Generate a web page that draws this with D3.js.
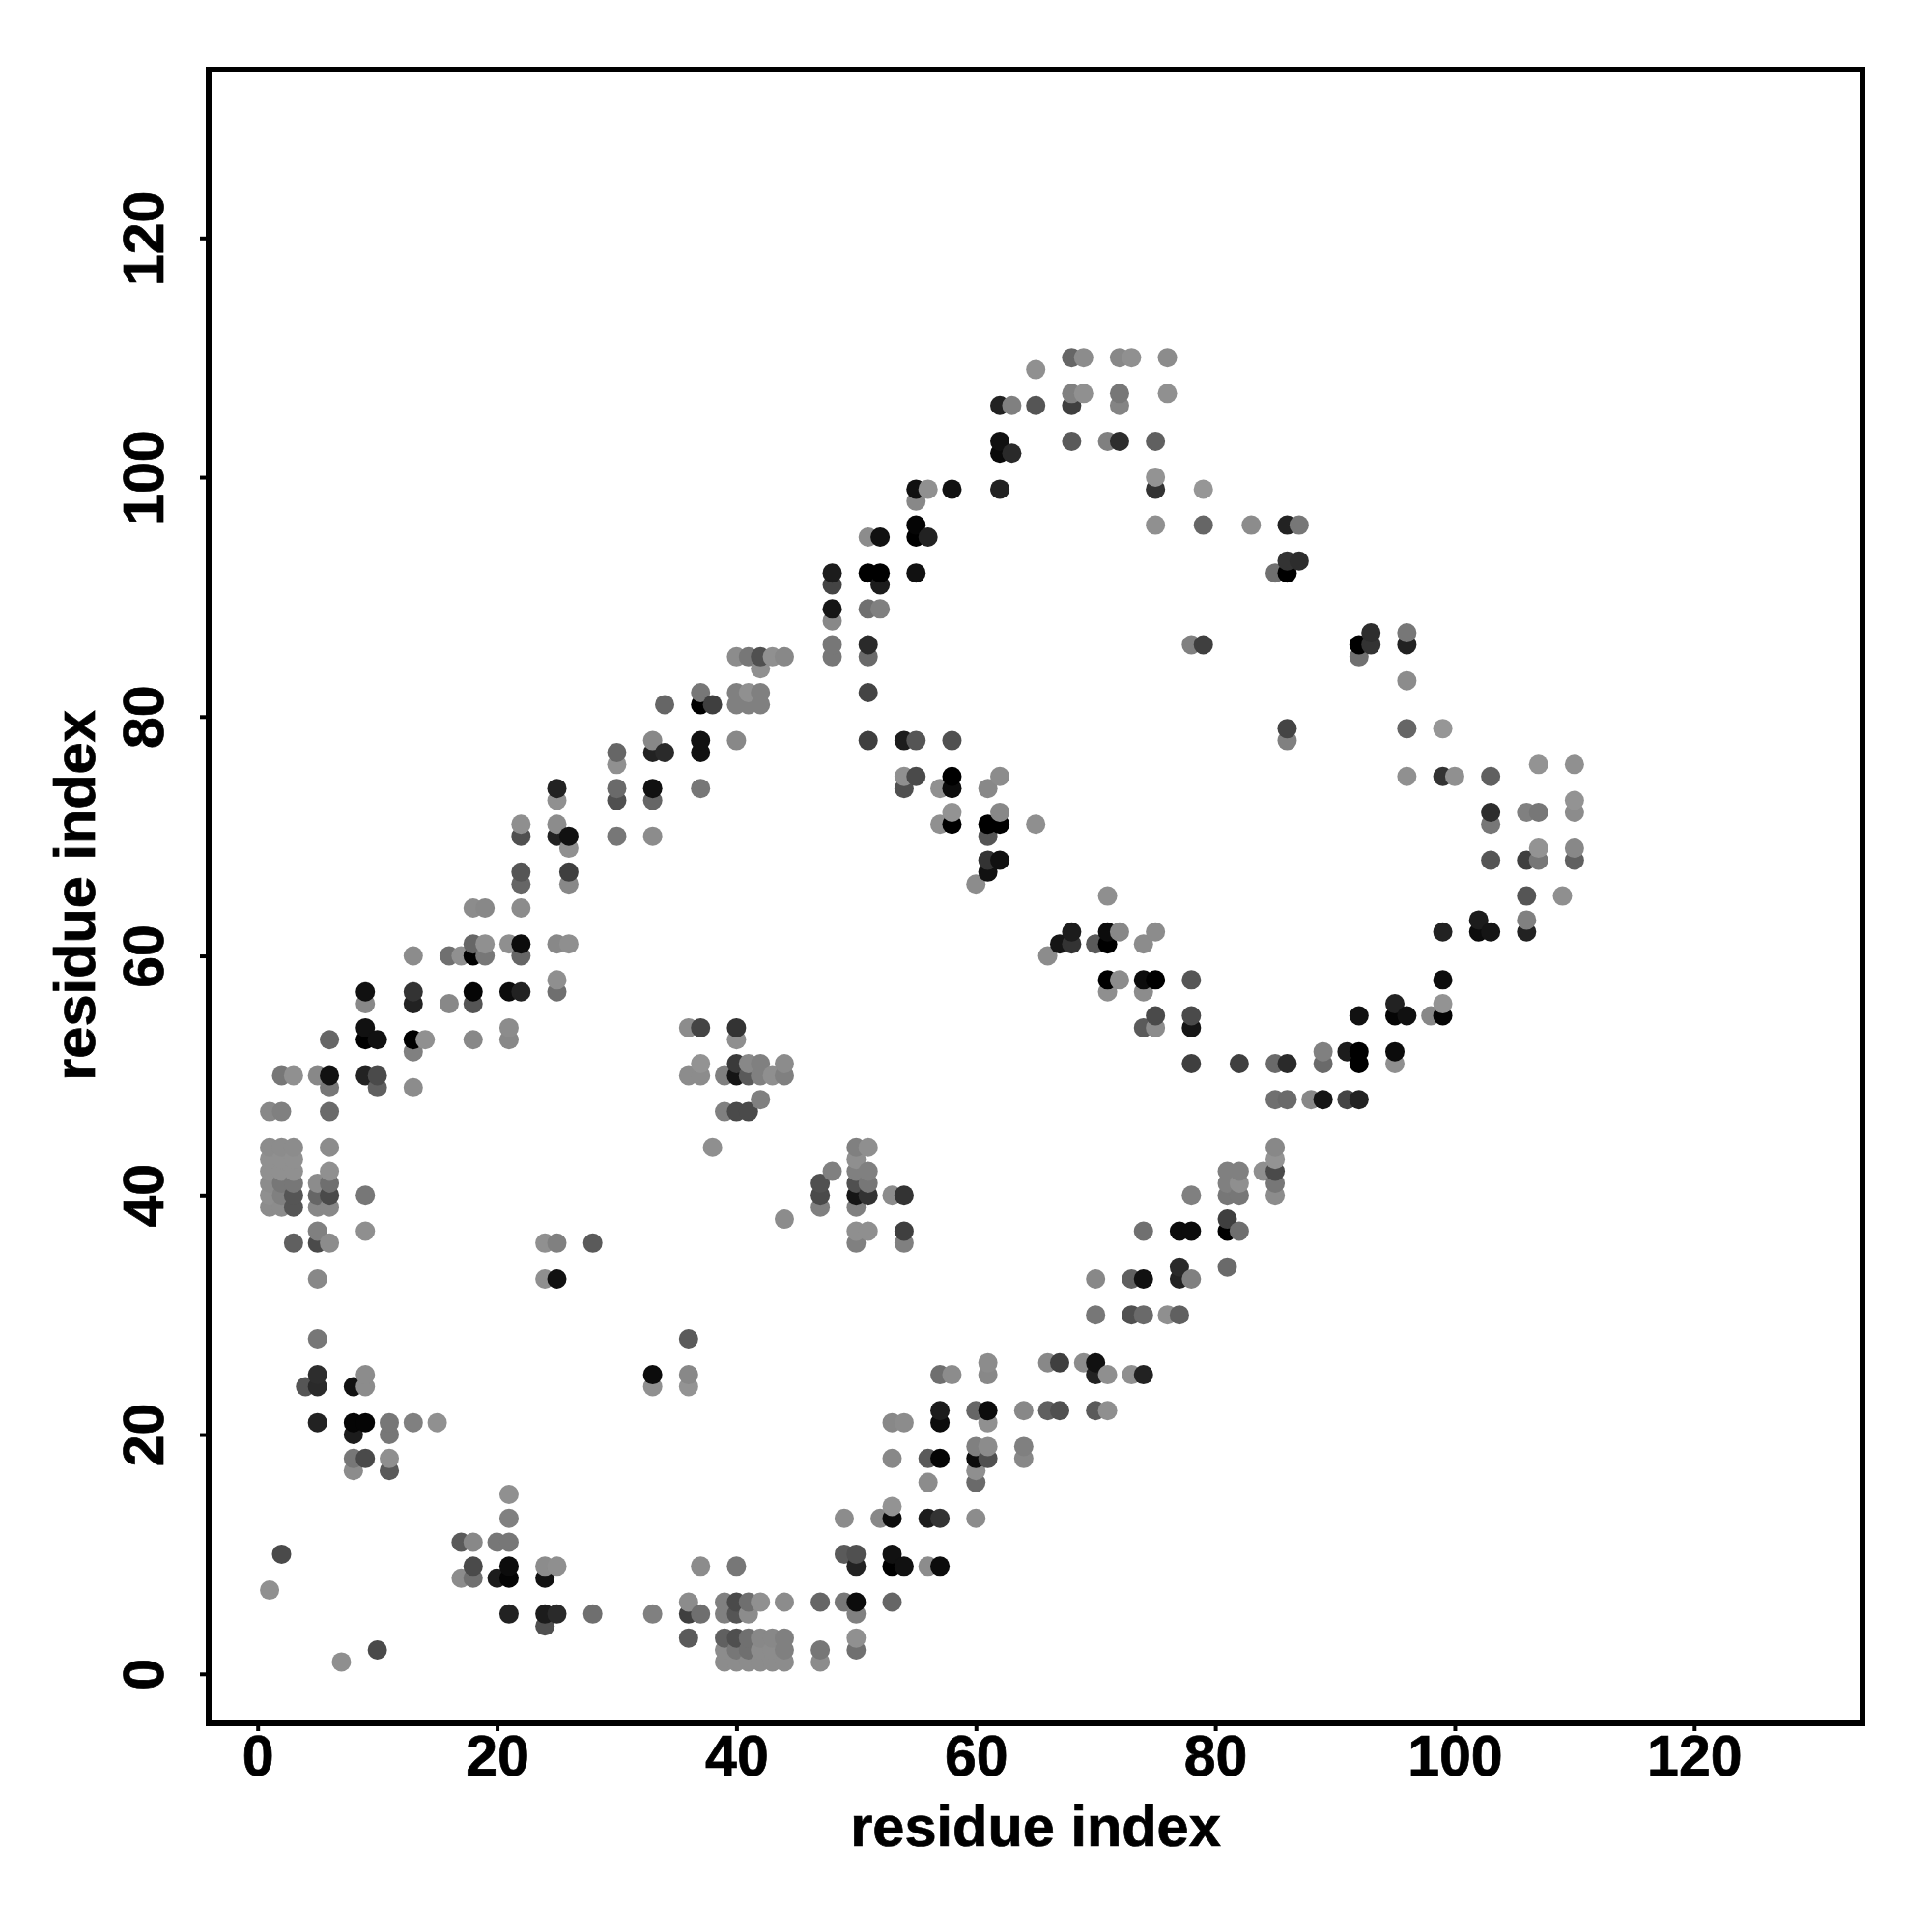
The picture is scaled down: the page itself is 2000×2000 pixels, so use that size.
<!DOCTYPE html>
<html><head><meta charset="utf-8">
<script src="https://cdn.jsdelivr.net/npm/d3@7"></script>
<style>html,body{margin:0;padding:0;background:#fff}svg{display:block}</style>
</head><body><svg id="chart" width="2000" height="2000"></svg>
<script>
// Each row: the residue index on the y axis
const rowResidue = [110,109,107,106,103,102,100,99,98,96,95,93,92,91,89,88,87,86,85,84,83,82,81,79,78,77,76,75,74,73,72,71,70,69,68,67,66,65,64,63,62,61,60,58,57,56,55,54,53,52,51,50,49,48,47,44,43,42,41,40,39,38,37,36,34,33,30,28,26,25,24,22,21,20,19,18,17,16,15,14,13,11,10,9,8,7,6,5,4,3,2,1];
// Partner residues on the x axis, per row
const rowPartners = [
[68,69,72,73,76],[65],[68,69,72,76],[62,63,65,68,72],[62,68,71,72,75],[62,63],[75],[55,56,58,62,75,79],[55],
[55,75,79,83,86,87],[51,52,55,56],[86,87],[48,51,52,55,85,86],[48,52],[48,51,52],[48],[93,96],
[48,51,78,79,92,93,96],[40,41,42,43,44,48,51,92],[42],[96],[37,40,41,42,51],[34,37,38,40,41,42],[86,96,99],
[33,37,40,51,54,55,58,86],[30,33,34,37],[30,107,110],[54,55,58,62,96,99,100,103],[25,30,33,37,54,57,58,61],
[25,30,33,110],[58,62,103,106,107,110],[22,25,57,58,61,62,65,103],[22,25,26,30,33,61],[26,107,110],
[61,62,103,106,107,110],[22,26,61],[22,26,60],[71,106,109],[18,19,22],[102,106],[68,71,72,75,99,102,103,106],
[18,19,21,22,25,26,67,68,70,71,74],[13,16,17,18,19,22,66],[25,71,72,74,75,78,99],[9,13,18,21,22,25,71,74],
[9,13,16,18,95,99],[75,78,92,95,96,98,99],[9,21,36,37,40,74,75,78],[6,9,10,13,14,18,21,40],[13,89,91,92,95],
[37,40,41,42,44,78,82,85,86,89,92,95],[2,3,5,6,9,10,36,37,39,40,41,42,43,44],[6,10,13],[42,85,86,88,89,91,92],
[1,2,6,39,40,41],[1,2,3,6,38,50,51,85],[1,2,3,50,85],[1,2,3,6,48,50,51,81,82,84,85],[1,2,3,5,6,47,50,51,81,82,85],
[1,2,3,5,6,9,47,50,51,53,54,78,81,82,85],[1,2,3,5,6,47,50],[44,81],[5,9,50,51,54,74,77,78,81,82],
[3,5,6,24,25,28,50,54],[77,81],[5,24,25,70,73,74,77,78],[70,73,74,76,77],[5,36],[61,66,67,69,70],
[5,9,33,36,57,58,61,70,71,73,74],[4,5,8,9,33,36],[57,60,61,64,66,67,70,71],[5,8,9,11,13,15,53,54,57,61],[8,11],
[60,61,64],[8,9,11,53,56,57,60,61,64],[8,11,60],[56,60],[21],[53],[21,49,52,53,56,57,60],[17,18,20,21],[2,49,50,53],
[18,21,24,25,37,40,50,53,54,56,57],[17,18,20,21,24],[1],[36,39,40,41,42,44,47,49,50,53],
[21,24,25,28,33,36,37,39,40,41,50],[24],[36,39,40,41,42,43,44,50],[10,39,40,41,42,43,44,47,50],[7,39,40,41,42,43,44,47]
];
// Shade level per partner, 0 = black, 153 = lightest
const rowLevels = [
[102,140,136,144,140],[144],[128,144,119,144],[34,128,85,63,132],[17,90,128,45,96],[10,42],[147],[17,144,17,34,51,150],[136],
[5,144,102,140,34,119],[140,17,0,34],[51,45],[28,0,0,17,112,0],[68,28],[21,112,128],[136],[45,119],
[119,42,128,63,0,51,34],[140,119,80,144,136,119,106,112],[144],[140],[119,128,144,128,68],[102,0,63,128,128,128],[68,102,150],
[136,17,136,63,28,85,80,128],[102,34,42,17],[144,147,144],[144,74,0,140,144,51,144,96],[34,106,17,119,80,144,12,136],
[144,80,102,147],[147,136,45,128,119,140],[143,140,144,0,0,0,143,119],[80,34,17,119,140,85],[144,147,136],
[51,17,85,63,119,96],[85,63,17],[102,136,140],[143,85,143],[140,136,140],[28,128],[28,12,136,140,34,12,21,34],
[102,144,143,12,136,143,21,51,90,0,140],[140,112,144,0,119,102,140],[143,0,140,12,0,85,12],[17,51,5,12,34,111,143,140],
[136,34,136,85,34,147],[74,74,17,5,17,136,5],[17,140,140,68,51,90,140,21],[102,0,17,0,144,136,136,143],[128,128,28,0,12],
[147,58,136,128,140,63,63,106,42,106,0,143],[119,144,136,17,34,74,140,140,128,21,90,128,143,128],[119,96,140],[128,112,106,136,21,68,34],
[136,128,106,128,74,74],[140,140,140,140,143,128,143,136],[144,144,144,143,147],[144,144,144,144,128,128,128,128,128,143,74],[140,119,119,140,111,80,80,119,128,143,119],
[143,128,85,102,74,119,74,21,51,140,51,128,119,119,140],[140,140,85,136,136,128,128],[140,63],[128,143,143,143,63,112,12,12,0,111],
[96,74,140,144,128,90,128,128],[42,106],[136,143,17,136,96,17,34,128],[119,80,106,143,96],[119,90],[140,136,63,140,17],
[45,140,12,136,111,140,136,34,143,144,34],[85,42,17,140,144,147],[28,102,12,136,96,80,90,143],[34,5,5,119,128,144,136,140,12,144],[28,119],
[128,140,128],[119,74,143,136,90,5,12,80,136],[140,90,143],[140,106],[144],[147],[128,140,136,12,28,51,140],[90,136,119,119],[74,90,80,17],
[74,12,140,143,140,119,34,0,17,140,12],[140,112,28,5,17],[144],[140,128,74,111,144,140,102,119,12,102],
[34,28,42,111,128,63,111,128,85,140,128],[80],[90,96,79,112,136,136,128,144],[74,140,119,112,140,140,128,119,112],[143,140,140,140,140,140,140,140]
];
const xTicks = [0,20,40,60,80,100,120];
const yTicks = [0,20,40,60,80,100,120];
const axisTitle = "residue index";

const svg = d3.select("#chart");
const x = d3.scaleLinear().domain([0,120]).range([266.7,1753.8]);
const y = d3.scaleLinear().domain([0,120]).range([1732.8,246.3]);
const shade = d3.scaleLinear().domain([0,153]).range(["#000000","#999999"]);

const points = rowResidue.flatMap((r,i) => rowPartners[i].map((p,j) => ({p, r, level: rowLevels[i][j]})))
  .sort((a,b) => d3.ascending(a.p,b.p) || d3.ascending(a.r,b.r));

svg.append("g").selectAll("circle").data(points).join("circle")
  .attr("cx", d => x(d.p)).attr("cy", d => y(d.r)).attr("r", 10)
  .attr("fill", d => shade(d.level));

svg.append("rect").attr("x",216).attr("y",72).attr("width",1712).attr("height",1712)
  .attr("fill","none").attr("stroke","#000").attr("stroke-width",6);

const font = "'Liberation Sans', Arial, sans-serif";
const styleText = s => s.attr("fill","#000").attr("stroke","#000").attr("stroke-width",0.7)
  .style("font-family",font).style("font-weight","bold");
const gx = svg.append("g").attr("transform","translate(0,1784)")
  .call(d3.axisBottom(x).tickValues(xTicks).tickSize(8).tickFormat(d3.format("d")));
const gy = svg.append("g").attr("transform","translate(216,0)")
  .call(d3.axisLeft(y).tickValues(yTicks).tickSize(9).tickFormat(d3.format("d")));
[gx,gy].forEach(g => {
  g.select(".domain").remove();
  g.selectAll("line").attr("stroke","#000").attr("stroke-width",4);
  g.selectAll("text").call(styleText).style("font-size","59px");
});
gx.selectAll("text").attr("x",0).attr("y",54).attr("dy",null).attr("text-anchor","middle");
gy.selectAll("text").attr("x",null).attr("y",null).attr("dy",null).attr("text-anchor","middle")
  .attr("transform","translate(-47,0) rotate(-90)");

svg.append("text").attr("x",1072).attr("y",1911).attr("text-anchor","middle")
  .call(styleText).style("font-size","59.5px").text(axisTitle);
svg.append("text").attr("transform","translate(98,927) rotate(-90)").attr("text-anchor","middle")
  .call(styleText).style("font-size","59.5px").text(axisTitle);
</script></body></html>
